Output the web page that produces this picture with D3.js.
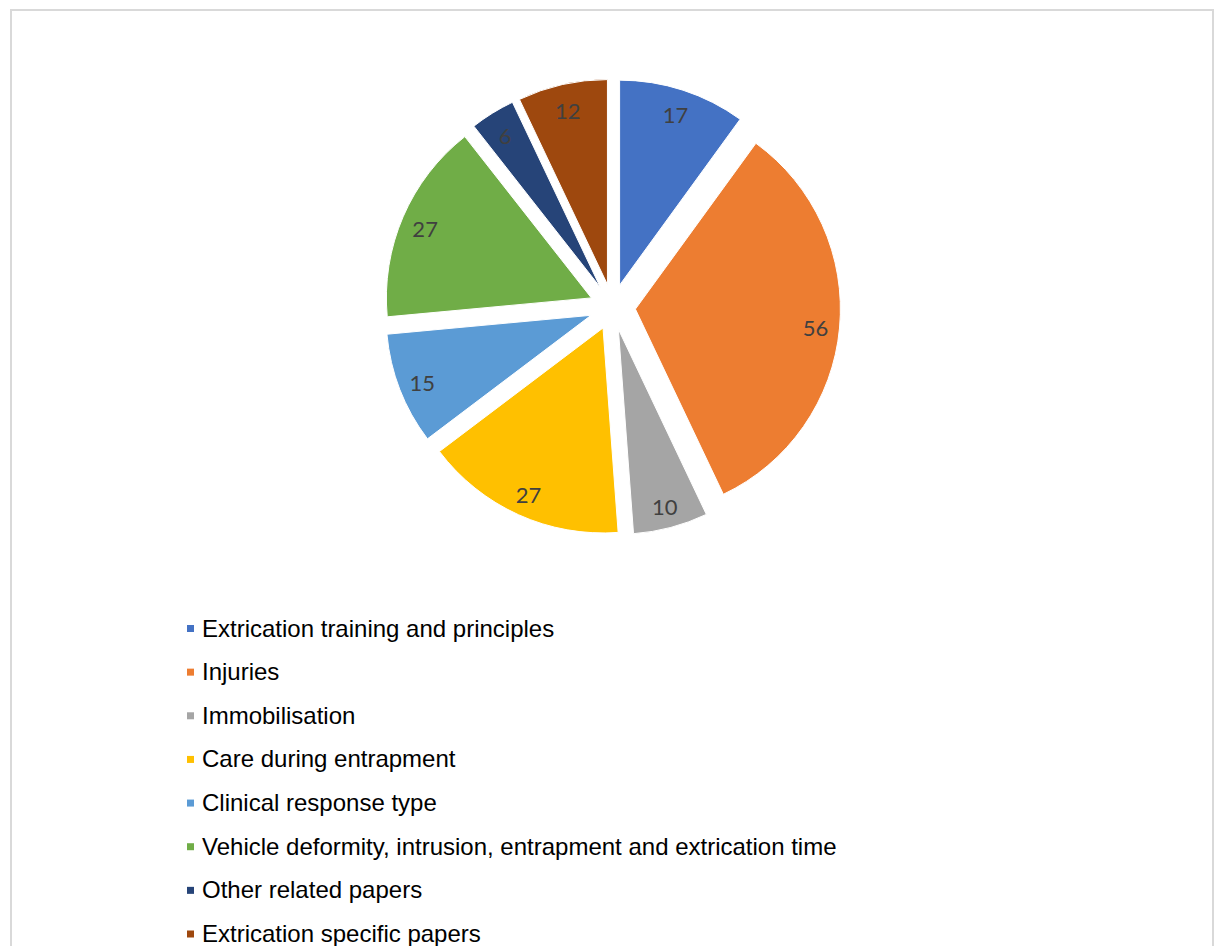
<!DOCTYPE html>
<html>
<head>
<meta charset="utf-8">
<script src="https://cdn.jsdelivr.net/npm/d3@7"></script>
<style>
  html, body { margin: 0; padding: 0; background: #ffffff; }
  svg { display: block; }
</style>
</head>
<body>
<svg id="chart" width="1218" height="946"></svg>
<script>
// Number of papers per theme
const categories = [
  "Extrication training and principles",
  "Injuries",
  "Immobilisation",
  "Care during entrapment",
  "Clinical response type",
  "Vehicle deformity, intrusion, entrapment and extrication time",
  "Other related papers",
  "Extrication specific papers"
];
const values = [17, 56, 10, 27, 15, 27, 6, 12];
const colors = ["#4472C4", "#ED7D31", "#A5A5A5", "#FFC000", "#5B9BD5", "#70AD47", "#264478", "#9E480E"];

const svg = d3.select("#chart");

// Chart frame
svg.append("rect")
  .attr("x", 11).attr("y", 10)
  .attr("width", 1202).attr("height", 960)
  .attr("fill", "#ffffff")
  .attr("stroke", "#d9d9d9")
  .attr("stroke-width", 2);

const cx = 612.5, cy = 307;
const radius = 205;
const explode = 23;
const labelDist = 181;

const pie = d3.pie().sort(null).value(d => d)(values);
const arc = d3.arc().innerRadius(0).outerRadius(radius);

const g = svg.append("g").attr("transform", `translate(${cx},${cy})`);

const slices = g.selectAll("g.slice")
  .data(pie)
  .join("g")
  .attr("class", "slice")
  .attr("transform", d => {
    const a = (d.startAngle + d.endAngle) / 2;
    return `translate(${explode * Math.sin(a)},${-explode * Math.cos(a)})`;
  });

slices.append("path")
  .attr("d", arc)
  .attr("fill", (d, i) => colors[i])
  .attr("stroke", "#ffffff")
  .attr("stroke-width", 1);

// Value labels, placed near the outer end of each slice
slices.append("text")
  .attr("x", d => labelDist * Math.sin((d.startAngle + d.endAngle) / 2))
  .attr("y", d => -labelDist * Math.cos((d.startAngle + d.endAngle) / 2) + 2)
  .attr("text-anchor", "middle")
  .attr("dominant-baseline", "central")
  .attr("font-family", "Lato, 'Open Sans', sans-serif")
  .attr("font-size", 22)
  .attr("fill", "#404040")
  .text(d => d.data);

// Legend
const legendY = d3.scaleLinear().domain([0, categories.length - 1]).range([628, 933.5]);
const legend = svg.append("g").selectAll("g")
  .data(categories)
  .join("g")
  .attr("transform", (d, i) => `translate(0,${legendY(i)})`);

legend.append("rect")
  .attr("x", 187).attr("y", -3)
  .attr("width", 7).attr("height", 7)
  .attr("fill", (d, i) => colors[i]);

legend.append("text")
  .attr("x", 202).attr("y", 8.5)
  .attr("font-family", "'Liberation Sans', Arial, sans-serif")
  .attr("font-size", 24)
  .attr("fill", "#000000")
  .text(d => d);
</script>
</body>
</html>
